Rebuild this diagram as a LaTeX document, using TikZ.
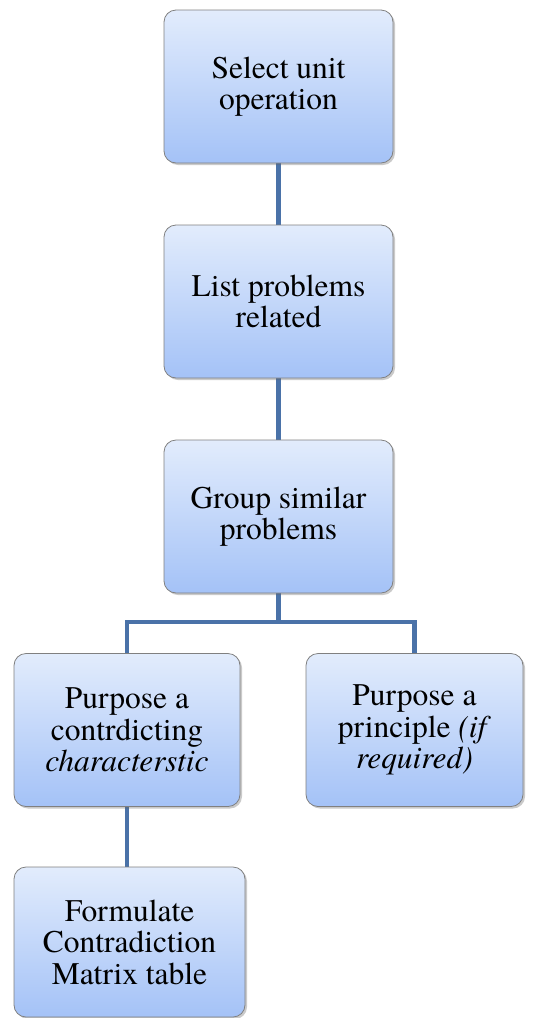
\documentclass[tikz,border=0pt]{standalone}
\usepackage{fontspec}
\setmainfont{texgyretermes}[Extension=.otf, UprightFont=*-regular, ItalicFont=*-italic, BoldFont=*-bold, BoldItalicFont=*-bolditalic]
\usetikzlibrary{backgrounds,shadows}
\definecolor{conncol}{HTML}{4A72A8}
\definecolor{boxtop}{HTML}{E2ECFC}
\definecolor{boxbot}{HTML}{A4C2F7}
\definecolor{boxedge}{HTML}{808080}
\tikzset{
  stepbox/.style={draw=boxedge, line width=0.8pt, rounded corners=12pt,
    top color=boxtop, bottom color=boxbot, align=center,
    minimum width=229pt, minimum height=153pt, inner sep=0pt,
    font=\rmfamily\fontsize{31.5}{31.5}\selectfont,
    drop shadow={shadow xshift=2pt, shadow yshift=-2pt, opacity=0.35, fill=black!60}},
  conn/.style={draw=conncol, line width=4.5pt}
}
\begin{document}
\begin{tikzpicture}[x=1pt,y=1pt]
\useasboundingbox (0,0) rectangle (534,-1018);
\node[stepbox] (b1) at (278.5,-86.5) {Select unit\\operation};
\node[stepbox] (b2) at (278.5,-301.5) {List problems\\related};
\node[stepbox] (b3) at (278.5,-516.5) {Group similar\\problems};
\node[stepbox, minimum width=226pt] (b4) at (127,-730) {Purpose a\\contrdicting\\\textit{characterstic}};
\node[stepbox, minimum width=217pt] (b5) at (414.5,-730) {Purpose a\\principle \textit{(if}\\\textit{required)}};
\node[stepbox, minimum width=231pt, minimum height=150pt] (b6) at (129.5,-942) {Formulate\\Contradiction\\Matrix table};
\coordinate (j) at (278.5,-622);
\begin{scope}[on background layer]
\draw[conn] (b1.south) -- (b2.north);
\draw[conn] (b2.south) -- (b3.north);
\draw[conn] (b3.south) -- (j);
\draw[conn] (j) -| (b4.north);
\draw[conn] (j) -| (b5.north);
\draw[conn] (b4.south) -- (b4.south |- b6.north);
\end{scope}
\end{tikzpicture}
\end{document}
